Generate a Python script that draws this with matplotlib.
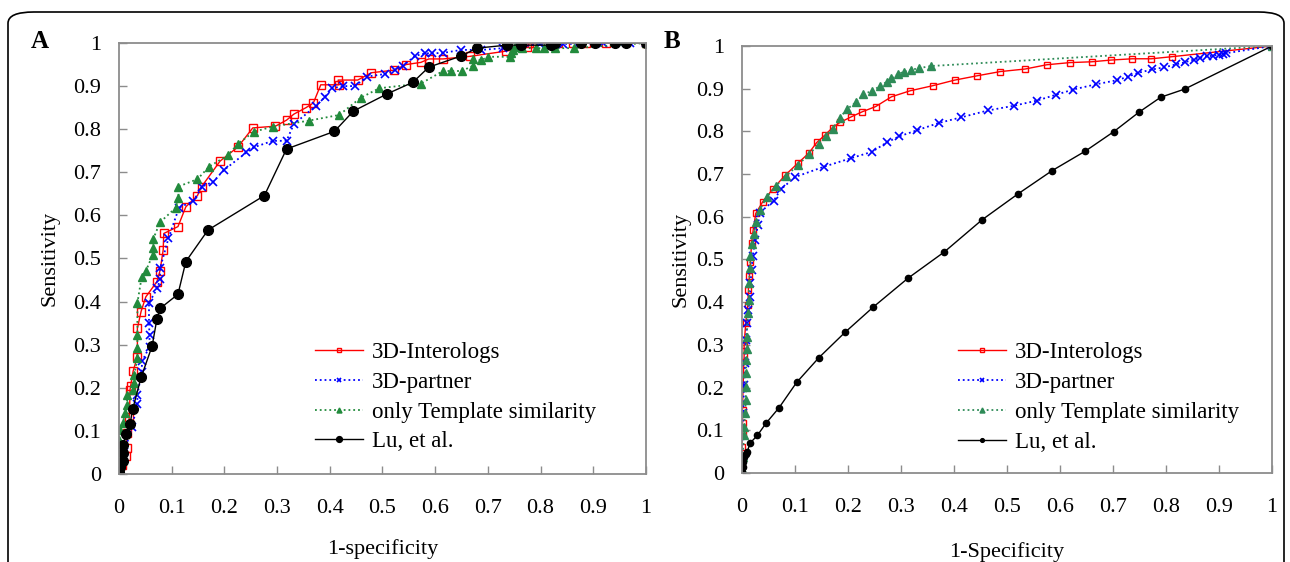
import matplotlib
matplotlib.use("Agg")
import matplotlib.pyplot as plt
from matplotlib.patches import FancyBboxPatch

plt.rcParams["font.family"] = ["Liberation Serif", "DejaVu Serif"]

# ---- panel A data (1-specificity, sensitivity) ----
a_inter_x = [0.0, 0.005, 0.013, 0.015, 0.015, 0.020, 0.021, 0.022, 0.027, 0.035, 0.035, 0.042, 0.051,
             0.072, 0.078, 0.084, 0.085, 0.112, 0.127, 0.149, 0.157, 0.192, 0.226, 0.254, 0.297,
             0.318, 0.332, 0.355, 0.369, 0.383, 0.417, 0.416, 0.453, 0.479, 0.522, 0.545, 0.573,
             0.588, 0.615, 0.666, 0.734, 0.774, 0.779, 0.784, 0.834, 0.862, 0.886, 0.924, 1.0]
a_inter_y = [0.0, 0.02, 0.042, 0.060, 0.094, 0.133, 0.195, 0.203, 0.239, 0.272, 0.338, 0.377, 0.411,
             0.446, 0.472, 0.520, 0.558, 0.574, 0.620, 0.646, 0.667, 0.726, 0.759, 0.803, 0.807,
             0.821, 0.835, 0.850, 0.861, 0.903, 0.903, 0.914, 0.914, 0.931, 0.937, 0.950, 0.955,
             0.963, 0.963, 0.969, 0.981, 0.990, 1.0, 1.0, 1.0, 1.0, 1.0, 1.0, 1.0]

a_partner_x = [0.0, 0.01, 0.025, 0.035, 0.035, 0.043, 0.044, 0.058, 0.058, 0.057, 0.057, 0.073, 0.078,
               0.078, 0.094, 0.114, 0.141, 0.158, 0.179, 0.199, 0.242, 0.256, 0.292, 0.318, 0.332,
               0.374, 0.391, 0.405, 0.426, 0.448, 0.470, 0.505, 0.524, 0.539, 0.562, 0.581, 0.595,
               0.615, 0.650, 0.688, 0.729, 0.761, 0.799, 0.843, 0.872, 0.919, 0.951, 0.970, 1.0]
a_partner_y = [0.0, 0.05, 0.11, 0.162, 0.183, 0.237, 0.262, 0.295, 0.322, 0.350, 0.397, 0.431, 0.452,
               0.477, 0.547, 0.618, 0.633, 0.667, 0.678, 0.705, 0.746, 0.758, 0.773, 0.773, 0.812,
               0.854, 0.875, 0.895, 0.900, 0.900, 0.922, 0.928, 0.937, 0.947, 0.970, 0.976, 0.976,
               0.977, 0.984, 0.984, 0.988, 0.991, 0.998, 0.998, 0.998, 1.0, 1.0, 1.0, 1.0]

a_template_x = [0.0, 0.0, 0.0, 0.0, 0.002, 0.008, 0.011, 0.015, 0.016, 0.027, 0.028, 0.029, 0.035,
                0.035, 0.035, 0.035, 0.043, 0.051, 0.064, 0.065, 0.065, 0.078, 0.108, 0.113, 0.113,
                0.149, 0.171, 0.207, 0.226, 0.256, 0.292, 0.361, 0.418, 0.459, 0.494, 0.573, 0.615,
                0.630, 0.651, 0.671, 0.672, 0.687, 0.701, 0.743, 0.744, 0.748, 0.751, 0.765, 0.791,
                0.807, 0.827, 0.863, 1.0]
a_template_y = [0.005, 0.025, 0.048, 0.079, 0.102, 0.118, 0.141, 0.160, 0.183, 0.195, 0.210, 0.230,
                0.268, 0.292, 0.322, 0.397, 0.456, 0.471, 0.508, 0.524, 0.545, 0.584, 0.618, 0.641,
                0.667, 0.684, 0.713, 0.740, 0.766, 0.794, 0.806, 0.820, 0.833, 0.873, 0.895, 0.906,
                0.935, 0.935, 0.935, 0.947, 0.962, 0.960, 0.968, 0.968, 0.976, 0.984, 0.990, 0.988,
                0.988, 0.988, 0.988, 0.988, 1.0]

a_lu_x = [0.0, 0.002, 0.007, 0.007, 0.008, 0.013, 0.021, 0.026, 0.042, 0.063, 0.072, 0.078, 0.112,
          0.127, 0.169, 0.276, 0.318, 0.409, 0.445, 0.509, 0.558, 0.588, 0.650, 0.679, 0.736,
          0.763, 0.819, 0.827, 0.876, 0.904, 0.941, 0.962, 1.0]
a_lu_y = [0.005, 0.017, 0.029, 0.048, 0.067, 0.092, 0.115, 0.150, 0.224, 0.297, 0.359, 0.384, 0.417,
          0.493, 0.566, 0.646, 0.754, 0.795, 0.842, 0.882, 0.909, 0.944, 0.970, 0.988, 0.995,
          0.995, 0.995, 1.0, 1.0, 1.0, 1.0, 1.0, 1.0]

# ---- panel B data ----
b_inter_x = [0.0, 0.0, 0.001, 0.001, 0.001, 0.002, 0.004, 0.004, 0.007, 0.011, 0.012, 0.014, 0.016,
             0.018, 0.021, 0.026, 0.039, 0.058, 0.082, 0.105, 0.126, 0.141, 0.157, 0.171, 0.185,
             0.206, 0.227, 0.252, 0.282, 0.317, 0.360, 0.401, 0.443, 0.487, 0.534, 0.575, 0.618,
             0.660, 0.696, 0.736, 0.772, 0.812, 1.0]
b_inter_y = [0.03, 0.062, 0.093, 0.116, 0.148, 0.202, 0.275, 0.300, 0.351, 0.393, 0.429, 0.461, 0.495,
             0.538, 0.569, 0.608, 0.635, 0.665, 0.698, 0.725, 0.749, 0.774, 0.792, 0.809, 0.821,
             0.834, 0.846, 0.858, 0.881, 0.895, 0.907, 0.920, 0.930, 0.940, 0.946, 0.956, 0.961,
             0.963, 0.967, 0.970, 0.970, 0.975, 1.0]

b_partner_x = [0.0, 0.002, 0.004, 0.006, 0.007, 0.010, 0.012, 0.015, 0.016, 0.018, 0.020, 0.025,
               0.030, 0.034, 0.060, 0.073, 0.100, 0.154, 0.205, 0.245, 0.273, 0.296, 0.331, 0.372,
               0.414, 0.464, 0.513, 0.556, 0.593, 0.625, 0.667, 0.708, 0.728, 0.747, 0.774, 0.797,
               0.819, 0.836, 0.852, 0.864, 0.877, 0.889, 0.899, 0.908, 0.913, 1.0]
b_partner_y = [0.02, 0.140, 0.206, 0.257, 0.311, 0.352, 0.382, 0.413, 0.444, 0.475, 0.507, 0.546,
               0.581, 0.610, 0.638, 0.664, 0.693, 0.717, 0.737, 0.752, 0.774, 0.788, 0.803, 0.820,
               0.833, 0.849, 0.860, 0.872, 0.886, 0.898, 0.910, 0.920, 0.928, 0.937, 0.945, 0.950,
               0.957, 0.962, 0.968, 0.972, 0.976, 0.977, 0.980, 0.982, 0.983, 1.0]

b_template_x = [0.0, 0.001, 0.004, 0.004, 0.006, 0.007, 0.008, 0.008, 0.008, 0.009, 0.009, 0.011,
                0.013, 0.013, 0.015, 0.016, 0.018, 0.023, 0.026, 0.033, 0.047, 0.064, 0.083, 0.106,
                0.126, 0.146, 0.158, 0.171, 0.184, 0.198, 0.215, 0.229, 0.246, 0.260, 0.273, 0.282,
                0.294, 0.306, 0.318, 0.334, 0.356, 1.0]
b_template_y = [0.01, 0.038, 0.089, 0.108, 0.140, 0.171, 0.202, 0.233, 0.265, 0.290, 0.319, 0.374,
                0.405, 0.444, 0.479, 0.508, 0.536, 0.559, 0.587, 0.615, 0.647, 0.672, 0.696, 0.721,
                0.747, 0.770, 0.789, 0.806, 0.831, 0.852, 0.868, 0.887, 0.895, 0.906, 0.916, 0.924,
                0.934, 0.940, 0.944, 0.948, 0.953, 1.0]

b_lu_x = [0.0, 0.001, 0.002, 0.004, 0.007, 0.009, 0.016, 0.029, 0.045, 0.070, 0.103, 0.145, 0.194,
          0.248, 0.313, 0.382, 0.453, 0.520, 0.585, 0.648, 0.701, 0.749, 0.790, 0.835, 1.0]
b_lu_y = [0.003, 0.015, 0.026, 0.038, 0.044, 0.048, 0.071, 0.088, 0.116, 0.153, 0.212, 0.270, 0.329,
          0.389, 0.456, 0.518, 0.593, 0.653, 0.708, 0.754, 0.799, 0.845, 0.880, 0.899, 1.0]

labels = ["3D-Interologs", "3D-partner", "only Template similarity", "Lu, et al."]
ticks = [i / 10 for i in range(11)]
tick_labels = ["0", "0.1", "0.2", "0.3", "0.4", "0.5", "0.6", "0.7", "0.8", "0.9", "1"]

fig = plt.figure(figsize=(12.9, 5.62), dpi=100)
fig.patches.append(FancyBboxPatch((8 / 1290, -0.2), 1276 / 1290, 1.2 - 12 / 562,
                                  boxstyle="round,pad=0,rounding_size=0.02",
                                  transform=fig.transFigure, fill=False,
                                  edgecolor="black", linewidth=1.2, zorder=0))


def style_axes(ax, xlabel, ylabel, xpad, ypad):
    ax.set_xlim(0, 1)
    ax.set_ylim(0, 1)
    ax.set_xticks(ticks)
    ax.set_yticks(ticks)
    ax.set_xticklabels(tick_labels)
    ax.set_yticklabels(tick_labels)
    for s in ax.spines.values():
        s.set_color("#8c8c8c")
        s.set_linewidth(1.3)
    ax.tick_params(direction="in", length=6, width=1, color="#8c8c8c", labelsize=16)
    ax.tick_params(axis="x", pad=18)
    ax.tick_params(axis="y", pad=13)
    ax.set_xlabel(xlabel, fontsize=16, labelpad=xpad)
    ax.set_ylabel(ylabel, fontsize=16, labelpad=ypad)


def add_legend(ax, x0):
    ax.legend(labels, loc="upper left", bbox_to_anchor=(x0, 0.306), frameon=False, fontsize=16.5,
              markerscale=0.6, handlelength=2.1, handletextpad=0.4, labelspacing=0.38,
              borderpad=0, borderaxespad=0)


# panel A
ax1 = fig.add_axes([0.0922, 0.1566, 0.4085, 0.7669])
ax1.plot(a_inter_x, a_inter_y, "-", color="red", lw=1, marker="s", ms=5.5, mfc="none", mec="red", mew=1)
ax1.plot(a_partner_x, a_partner_y, ":", color="blue", lw=1.3, marker="x", ms=6, mew=1.2)
ax1.plot(a_template_x, a_template_y, ":", color="#228B3C", lw=1.3, marker="^", ms=6)
ax1.plot(a_lu_x, a_lu_y, "-", color="black", lw=1, marker="o", ms=7)
style_axes(ax1, "1-specificity", "Sensitivity", 15, 10)
add_legend(ax1, 0.372)
fig.text(40 / 1290, 1 - 42 / 562, "A", fontsize=18, fontweight="bold", va="center", ha="center")

# panel B
ax2 = fig.add_axes([0.5752, 0.1584, 0.4109, 0.7598])
ax2.plot(b_inter_x, b_inter_y, "-", color="red", lw=1, marker="s", ms=5, mfc="none", mec="red", mew=1)
ax2.plot(b_partner_x, b_partner_y, ":", color="blue", lw=1.3, marker="x", ms=6, mew=1.2)
ax2.plot(b_template_x, b_template_y, ":", color="#2E8B57", lw=1.3, marker="^", ms=6)
ax2.plot(b_lu_x, b_lu_y, "-", color="black", lw=1, marker="o", ms=4.5)
style_axes(ax2, "1-Specificity", "Sensitivity", 18, 4)
add_legend(ax2, 0.4075)
fig.text(672 / 1290, 1 - 42 / 562, "B", fontsize=18, fontweight="bold", va="center", ha="center")

fig.savefig("out.png", dpi=100)
